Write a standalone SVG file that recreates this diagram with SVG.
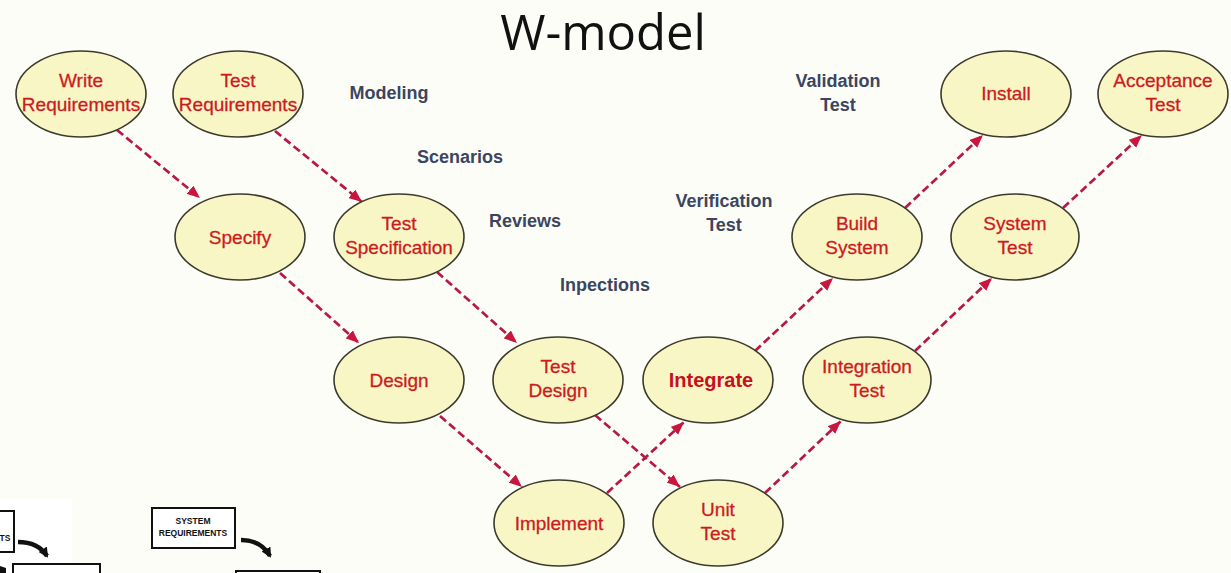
<svg xmlns="http://www.w3.org/2000/svg" width="1231" height="573" viewBox="0 0 1231 573">
  <style>
    .node ellipse { fill: #f9f6c6; stroke: #3b3a2c; stroke-width: 1.6; }
    .node text { font-family: "Liberation Sans", Arial, sans-serif; font-size: 19px; fill: #cc1b1f; text-anchor: middle; stroke: #cc1b1f; stroke-width: 0.3; }
    .node text.big { font-size: 20px; font-weight: bold; fill: #c8101a; stroke: none; }
    .note { font-family: "Liberation Sans", Arial, sans-serif; font-size: 18px; font-weight: bold; fill: #3b4560; text-anchor: middle; }
    .flow line { stroke: #b81849; stroke-width: 2.7; stroke-dasharray: 8 4; fill: none; marker-end: url(#arr); }
    .old rect.box { fill: #ffffff; stroke: #111; stroke-width: 2; }
    .old text { font-family: "Liberation Sans", Arial, sans-serif; font-size: 8.5px; font-weight: bold; fill: #111; text-anchor: middle; }
    .old path.bend { fill: none; stroke: #111; stroke-width: 4.5; }
  </style>
  <defs>
    <marker id="arr" viewBox="0 0 12 10" refX="12" refY="5" markerWidth="13" markerHeight="11" markerUnits="userSpaceOnUse" orient="auto">
      <path d="M0,0 L12,5 L0,10 Z" fill="#c8163f"/>
    </marker>
    <marker id="blk" viewBox="0 0 10 10" refX="8" refY="5" markerWidth="10" markerHeight="10" markerUnits="userSpaceOnUse" orient="auto">
      <path d="M0,0 L10,5 L0,10 Z" fill="#111"/>
    </marker>
  </defs>

  <!-- page -->
  <rect x="0" y="0" width="1231" height="573" fill="#fdfdf7"/>

  <!-- title -->
  <text x="603" y="50" font-family="'Open Sans', 'Liberation Sans', sans-serif" font-size="49" fill="#111" text-anchor="middle">W-model</text>

  <!-- older sketch fragments in the lower-left corner -->
  <g id="old-sketch" class="old">
    <rect x="0" y="499" width="72" height="74" fill="#ffffff"/>
    <rect class="box" x="-6" y="511" width="20" height="41"/>
    <text x="5" y="541">TS</text>
    <path class="bend" d="M18,542 Q38,542 47,556" marker-end="url(#blk)"/>
    <rect class="box" x="13" y="564" width="87" height="20"/>
    <path d="M0,566 L6,568 L6,573 L0,573 Z" fill="#111"/>
    <rect class="box" x="152" y="508" width="83" height="40"/>
    <text x="193" y="524">SYSTEM</text>
    <text x="193" y="536">REQUIREMENTS</text>
    <path class="bend" d="M241,540 Q261,540 270,556" marker-end="url(#blk)"/>
    <rect class="box" x="236" y="571" width="84" height="20"/>
  </g>

  <!-- side notes -->
  <g id="notes">
    <text class="note" x="389" y="99">Modeling</text>
    <text class="note" x="460" y="163">Scenarios</text>
    <text class="note" x="525" y="227">Reviews</text>
    <text class="note" x="605" y="291">Inpections</text>
    <text class="note" x="838" y="87">Validation</text>
    <text class="note" x="838" y="111">Test</text>
    <text class="note" x="724" y="207">Verification</text>
    <text class="note" x="724" y="231">Test</text>
  </g>

  <!-- connectors -->
  <g id="connectors" class="flow">
    <line x1="117" y1="130" x2="200" y2="198"/>
    <line x1="275" y1="131" x2="362" y2="202"/>
    <line x1="280" y1="273" x2="359" y2="343"/>
    <line x1="437" y1="272" x2="517" y2="343"/>
    <line x1="440" y1="416" x2="522" y2="487"/>
    <line x1="595" y1="415" x2="680" y2="487"/>
    <line x1="607" y1="493" x2="684" y2="422"/>
    <line x1="755" y1="351" x2="833" y2="278"/>
    <line x1="765" y1="493" x2="841" y2="421"/>
    <line x1="905" y1="208" x2="983" y2="135"/>
    <line x1="915" y1="351" x2="992" y2="278"/>
    <line x1="1063" y1="208" x2="1142" y2="135"/>
  </g>

  <!-- nodes -->
  <g id="write-requirements" class="node">
    <ellipse cx="81" cy="94" rx="65" ry="43"/>
    <text x="81" y="87">Write</text>
    <text x="81" y="111">Requirements</text>
  </g>
  <g id="test-requirements" class="node">
    <ellipse cx="238" cy="94" rx="65" ry="43"/>
    <text x="238" y="87">Test</text>
    <text x="238" y="111">Requirements</text>
  </g>
  <g id="specify" class="node">
    <ellipse cx="240" cy="237" rx="65" ry="43"/>
    <text x="240" y="244">Specify</text>
  </g>
  <g id="test-specification" class="node">
    <ellipse cx="399" cy="237" rx="65" ry="43"/>
    <text x="399" y="230">Test</text>
    <text x="399" y="254">Specification</text>
  </g>
  <g id="design" class="node">
    <ellipse cx="399" cy="380" rx="65" ry="43"/>
    <text x="399" y="387">Design</text>
  </g>
  <g id="test-design" class="node">
    <ellipse cx="558" cy="380" rx="65" ry="43"/>
    <text x="558" y="373">Test</text>
    <text x="558" y="397">Design</text>
  </g>
  <g id="integrate" class="node">
    <ellipse cx="708" cy="380" rx="65" ry="43"/>
    <text class="big" x="711" y="387">Integrate</text>
  </g>
  <g id="implement" class="node">
    <ellipse cx="559" cy="523" rx="65" ry="43"/>
    <text x="559" y="530">Implement</text>
  </g>
  <g id="unit-test" class="node">
    <ellipse cx="718" cy="523" rx="65" ry="43"/>
    <text x="718" y="516">Unit</text>
    <text x="718" y="540">Test</text>
  </g>
  <g id="integration-test" class="node">
    <ellipse cx="867" cy="380" rx="64" ry="43"/>
    <text x="867" y="373">Integration</text>
    <text x="867" y="397">Test</text>
  </g>
  <g id="build-system" class="node">
    <ellipse cx="857" cy="237" rx="65" ry="43"/>
    <text x="857" y="230">Build</text>
    <text x="857" y="254">System</text>
  </g>
  <g id="system-test" class="node">
    <ellipse cx="1015" cy="237" rx="64" ry="43"/>
    <text x="1015" y="230">System</text>
    <text x="1015" y="254">Test</text>
  </g>
  <g id="install" class="node">
    <ellipse cx="1006" cy="94" rx="65" ry="43"/>
    <text x="1006" y="100">Install</text>
  </g>
  <g id="acceptance-test" class="node">
    <ellipse cx="1163" cy="94" rx="65" ry="43"/>
    <text x="1163" y="87">Acceptance</text>
    <text x="1163" y="111">Test</text>
  </g>
</svg>
